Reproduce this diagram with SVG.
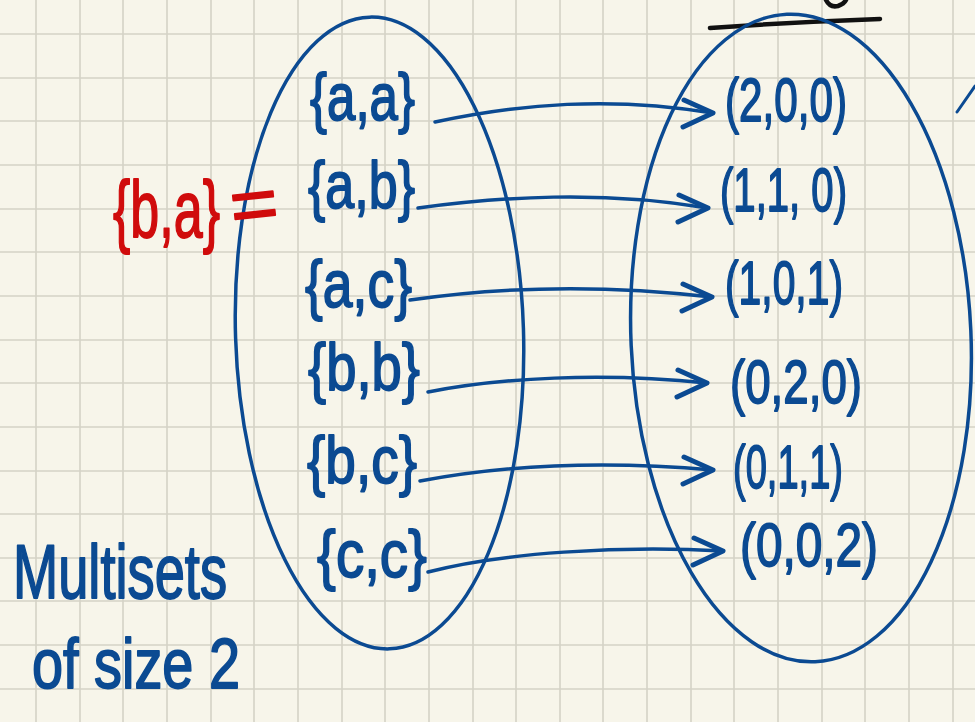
<svg xmlns="http://www.w3.org/2000/svg" width="975" height="722" viewBox="0 0 975 722">
<defs>
<style>
.bg{fill:#f7f5ea}
.grid line{stroke:#d4d2c6;stroke-width:1.6}
.set{fill:none;stroke:#0b4a92;stroke-width:3.5}
.ink{font-family:"Liberation Sans","Noto Sans",sans-serif;fill:#0b4a92;stroke:#0b4a92;stroke-width:1.8;stroke-linejoin:round}
.red{font-family:"Liberation Sans","Noto Sans",sans-serif;fill:#d00c0c;stroke:#d00c0c;stroke-width:1.8;stroke-linejoin:round}
.shaft{fill:none;stroke:#0b4a92;stroke-width:3.5;stroke-linecap:round}
.black{fill:none;stroke:#111;stroke-width:4.5;stroke-linecap:round}
</style>
<marker id="chev" viewBox="-34 -18 38 36" refX="0" refY="0" markerWidth="38" markerHeight="36" markerUnits="userSpaceOnUse" orient="0">
<path d="M-29,-13 L0,0 L-30,14" fill="none" stroke="#0b4a92" stroke-width="5" stroke-linecap="round" stroke-linejoin="round"/>
</marker>
</defs>
<rect class="bg" x="0" y="0" width="975" height="722"/>
<g class="grid">
<line x1="36" y1="0" x2="36" y2="722"/>
<line x1="80" y1="0" x2="80" y2="722"/>
<line x1="123" y1="0" x2="123" y2="722"/>
<line x1="167" y1="0" x2="167" y2="722"/>
<line x1="211" y1="0" x2="211" y2="722"/>
<line x1="254" y1="0" x2="254" y2="722"/>
<line x1="298" y1="0" x2="298" y2="722"/>
<line x1="342" y1="0" x2="342" y2="722"/>
<line x1="385" y1="0" x2="385" y2="722"/>
<line x1="429" y1="0" x2="429" y2="722"/>
<line x1="473" y1="0" x2="473" y2="722"/>
<line x1="516" y1="0" x2="516" y2="722"/>
<line x1="560" y1="0" x2="560" y2="722"/>
<line x1="603" y1="0" x2="603" y2="722"/>
<line x1="647" y1="0" x2="647" y2="722"/>
<line x1="691" y1="0" x2="691" y2="722"/>
<line x1="734" y1="0" x2="734" y2="722"/>
<line x1="778" y1="0" x2="778" y2="722"/>
<line x1="822" y1="0" x2="822" y2="722"/>
<line x1="865" y1="0" x2="865" y2="722"/>
<line x1="909" y1="0" x2="909" y2="722"/>
<line x1="953" y1="0" x2="953" y2="722"/>
<line x1="0" y1="34" x2="975" y2="34"/>
<line x1="0" y1="78" x2="975" y2="78"/>
<line x1="0" y1="121" x2="975" y2="121"/>
<line x1="0" y1="165" x2="975" y2="165"/>
<line x1="0" y1="209" x2="975" y2="209"/>
<line x1="0" y1="252" x2="975" y2="252"/>
<line x1="0" y1="296" x2="975" y2="296"/>
<line x1="0" y1="340" x2="975" y2="340"/>
<line x1="0" y1="383" x2="975" y2="383"/>
<line x1="0" y1="427" x2="975" y2="427"/>
<line x1="0" y1="471" x2="975" y2="471"/>
<line x1="0" y1="514" x2="975" y2="514"/>
<line x1="0" y1="558" x2="975" y2="558"/>
<line x1="0" y1="601" x2="975" y2="601"/>
<line x1="0" y1="645" x2="975" y2="645"/>
<line x1="0" y1="689" x2="975" y2="689"/>
</g>

<g id="top-marks">
<path class="black" d="M710,28 Q795,22 880,19"/>
<path class="black" d="M826,0 Q830,8 838,6 Q844,4 846,0"/>
<path class="shaft" style="stroke-width:3" d="M957,112 L975,86"/>
</g>

<g id="domain">
<ellipse class="set" cx="379.5" cy="333" rx="144" ry="316" transform="rotate(-1.8 379.5 333)"/>
</g>
<g id="codomain">
<ellipse class="set" cx="801" cy="338" rx="170" ry="324" transform="rotate(-2.5 801 338)"/>
</g>

<g id="ms-aa"><text class="ink" x="310" y="120" font-size="66" textLength="105" lengthAdjust="spacingAndGlyphs">{a,a}</text></g>
<g id="ms-ab"><text class="ink" x="308" y="208" font-size="66" textLength="107" lengthAdjust="spacingAndGlyphs">{a,b}</text></g>
<g id="ms-ac"><text class="ink" x="305" y="307" font-size="66" textLength="107" lengthAdjust="spacingAndGlyphs">{a,c}</text></g>
<g id="ms-bb"><text class="ink" x="308" y="390" font-size="66" textLength="112" lengthAdjust="spacingAndGlyphs">{b,b}</text></g>
<g id="ms-bc"><text class="ink" x="307" y="483" font-size="66" textLength="110" lengthAdjust="spacingAndGlyphs">{b,c}</text></g>
<g id="ms-cc"><text class="ink" x="317" y="577" font-size="66" textLength="110" lengthAdjust="spacingAndGlyphs">{c,c}</text></g>

<g id="t-200"><text class="ink" x="725" y="121" font-size="62" textLength="122" lengthAdjust="spacingAndGlyphs">(2,0,0)</text></g>
<g id="t-110"><text class="ink" x="720" y="211" font-size="62" textLength="127" lengthAdjust="spacingAndGlyphs">(1,1, 0)</text></g>
<g id="t-101"><text class="ink" x="725" y="304" font-size="62" textLength="118" lengthAdjust="spacingAndGlyphs">(1,0,1)</text></g>
<g id="t-020"><text class="ink" x="730" y="403" font-size="62" textLength="132" lengthAdjust="spacingAndGlyphs">(0,2,0)</text></g>
<g id="t-011"><text class="ink" x="733" y="488" font-size="62" textLength="110" lengthAdjust="spacingAndGlyphs">(0,1,1)</text></g>
<g id="t-002"><text class="ink" x="740" y="566" font-size="62" textLength="138" lengthAdjust="spacingAndGlyphs">(0,0,2)</text></g>

<g id="note-ba">
<text class="red" x="113" y="237" font-size="80" textLength="107" lengthAdjust="spacingAndGlyphs">{b,a}</text>
<text class="red" x="230" y="230" font-size="75" textLength="48" lengthAdjust="spacingAndGlyphs" transform="rotate(-6 254 205)">=</text>
</g>

<g id="caption">
<text class="ink" x="13" y="598" font-size="76" textLength="214" lengthAdjust="spacingAndGlyphs">Multisets</text>
<text class="ink" x="32" y="688" font-size="70" textLength="208" lengthAdjust="spacingAndGlyphs">of size 2</text>
</g>

<g id="connectors">
<path class="shaft" marker-end="url(#chev)" d="M435,122 C520,104 610,96 713,113"/>
<path class="shaft" marker-end="url(#chev)" d="M418,208 C500,197 600,190 708,208"/>
<path class="shaft" marker-end="url(#chev)" d="M410,300 C500,287 600,284 712,297"/>
<path class="shaft" marker-end="url(#chev)" d="M428,392 C500,378 600,372 707,383"/>
<path class="shaft" marker-end="url(#chev)" d="M420,481 C500,466 600,460 713,470"/>
<path class="shaft" marker-end="url(#chev)" d="M428,572 C500,553 620,545 723,551"/>
</g>
</svg>
